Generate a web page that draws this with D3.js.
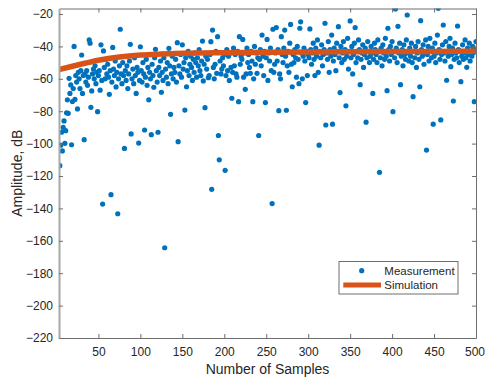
<!DOCTYPE html>
<html>
<head>
<meta charset="utf-8" />
<script src="https://d3js.org/d3.v7.min.js"></script>
<style>
  body { margin: 0; background: #fff; }
  svg { font-family: "Liberation Sans", Arial, sans-serif; }
</style>
</head>
<body>
<svg></svg>
<script>
// measured amplitude, one value per sample (sample index = position + 1)
var measured = [
  -96, -88, -93, -113.6, -101, -93, -104.5, -90, -86, -99.8, -92, -81, -73, -81.3, -59.7, -69, -63.8, -100.7, -74, -66,
  -40, -72.7, -58, -62, -78.6, -56, -60, -66, -55, -45.3, -69, -58, -97.6, -57, -62, -55, -64, -59, -36, -38,
  -77.6, -67.5, -57, -54, -60, -52, -63, -56, -80.3, -58, -55, -67, -39, -61, -137.3, -42.8, -53, -60, -48, -57,
  -51, -59, -69.6, -55, -131.5, -62, -40.6, -54, -58, -49, -65, -56, -143.3, -60, -52, -29.4, -57, -63, -50, -58,
  -103, -55, -61, -52, -66, -57, -49, -38.7, -94, -60, -54, -63, -47, -58, -69, -53, -56, -99.7, -61, -40.2,
  -55, -62, -50, -57, -91.6, -59, -48, -64, -53, -73, -56, -60, -94.5, -51, -58, -65.2, -47, -41.8, -55, -62,
  -93, -53, -58, -49, -68.3, -56, -61, -47, -164.3, -54, -59, -50, -63, -41.2, -52, -81.9, -57, -46, -60, -53,
  -56, -48, -62, -37.7, -98.8, -52, -57, -45, -59, -39, -54, -50, -79.3, -47, -64.9, -55, -43, -58, -51, -46,
  -53, -61, -48, -56, -44, -50, -59, -47, -52, -42, -55, -58, -49, -36.7, -61.3, -51, -77.8, -46, -54, -48,
  -59.3, -58, -45, -37.1, -128.2, -29.9, -53, -60, -51, -43, -56.6, -34, -95, -110, -49, -57, -54, -47, -52, -45,
  -116.5, -58, -42, -55, -46, -61, -44, -53, -72, -56, -41, -52, -45, -57, -59, -43, -74.1, -34, -51, -46,
  -48, -35.7, -59, -44, -66.5, -57, -41, -50, -45, -53, -56.6, -43, -49, -74.1, -60, -40, -51, -44, -56.6, -47,
  -95, -48, -42, -52, -33, -46, -58, -43, -74.7, -47, -35.7, -61, -44, -49, -41, -55, -137, -29.4, -56, -51,
  -44, -28.4, -49, -42, -79.7, -57, -60, -34, -45, -50, -41, -29.9, -46, -79.4, -52, -43, -56, -38, -26.4, -51,
  -64.9, -45, -50, -42, -47, -59, -40, -48, -63, -28.8, -24.8, -44, -60, -46, -41, -49, -74.7, -43, -58, -45,
  -47, -29.2, -42, -51, -44, -38, -48, -58, -41, -46, -36, -56, -101, -43, -47, -39, -52, -45, -42, -25.7,
  -88.5, -44, -48, -37, -56, -42, -46, -33, -88, -49, -41, -45, -55, -38, -43, -27.8, -47, -68.5, -40, -50,
  -44, -37, -48, -42, -76.7, -46, -35, -54, -43, -24.3, -47, -40, -57, -45, -38, -28.4, -50, -43, -47, -36,
  -42, -63.6, -48, -44, -39, -53, -45, -41, -86.8, -47, -37, -43, -50, -46, -40, -44, -69, -48, -38, -42,
  -45, -50, -36, -43, -117.7, -47, -41, -52, -39, -44, -48, -35, -46, -67.3, -28.8, -42, -49, -40, -45, -37,
  -80.3, -43, -47, -16.9, -41, -50, -27.6, -44, -38, -63.6, -46, -42, -52, -39, -45, -48, -36, -20.6, -44, -49,
  -41, -46, -38, -50, -71, -43, -47, -40, -53, -44, -37, -48, -64.9, -24.1, -42, -46, -39, -51, -44, -36,
  -104, -45, -40, -49, -35, -43, -47, -41, -88, -46, -38, -50, -44, -33, -16.5, -42, -48, -85.4, -45, -39,
  -26.8, -44, -49, -37, -60.9, -43, -46, -40, -35, -52.5, -45, -41, -73.7, -48, -38, -44, -47, -27.4, -42, -50,
  -43, -61.8, -46, -39, -48, -44, -36, -47, -52.9, -41, -45, -38, -49, -43, -46, -40, -44, -74.1, -42, -37
];

// simulated amplitude
var simSamples = [3, 25, 50, 75, 100, 125, 150, 200, 250, 300, 350, 400, 450, 500];
var simValues = [-54.3, -51.5, -48.5, -46.5, -45.3, -44.7, -44.3, -43.9, -43.6, -43.4, -43.3, -43.2, -43.1, -43.0];

var xTicks = [50, 100, 150, 200, 250, 300, 350, 400, 450, 500];
var yTicks = [-220, -200, -180, -160, -140, -120, -100, -80, -60, -40, -20];
var legendLabels = ['Measurement', 'Simulation'];

var width = 485, height = 379;
var margin = { left: 59, right: 9, top: 8.5, bottom: 41 };
var innerW = width - margin.left - margin.right;
var innerH = height - margin.top - margin.bottom;

var blue = '#0072BD', orange = '#D95319', axisColor = '#262626';

var svg = d3.select('svg').attr('width', width).attr('height', height);

var x = d3.scaleLinear().domain([3, 500]).range([0, innerW]);
var y = d3.scaleLinear().domain([-220, -16.6]).range([innerH, 0]);

var g = svg.append('g').attr('transform', 'translate(' + margin.left + ',' + margin.top + ')');

g.append('clipPath').attr('id', 'clip')
  .append('rect').attr('width', innerW).attr('height', innerH);

var points = measured.map(function (v, i) { return { s: i + 1, v: v }; })
  .filter(function (d) { return d.s >= 3; });

var plot = g.append('g').attr('clip-path', 'url(#clip)');

plot.selectAll('.dot')
  .data(points)
  .enter().append('circle')
  .attr('class', 'dot')
  .attr('cx', function (d) { return x(d.s); })
  .attr('cy', function (d) { return y(d.v); })
  .attr('r', 2.6)
  .attr('fill', blue);

var line = d3.line()
  .x(function (d) { return x(d[0]); })
  .y(function (d) { return y(d[1]); })
  .curve(d3.curveMonotoneX);

plot.append('path')
  .datum(simSamples.map(function (s, i) { return [s, simValues[i]]; }))
  .attr('d', line)
  .attr('fill', 'none')
  .attr('stroke', orange)
  .attr('stroke-width', 5.5);

// axes (MATLAB style: ticks inside, box on)
function styleAxis(sel) {
  sel.selectAll('path').attr('stroke', '#6e6e6e');
  sel.selectAll('line').attr('stroke', '#6e6e6e');
  sel.selectAll('text').attr('fill', axisColor).style('font-size', '12px')
    .style('font-family', '"Liberation Sans", Arial, sans-serif');
}

g.append('g')
  .attr('transform', 'translate(0,' + innerH + ')')
  .call(d3.axisBottom(x).tickValues(xTicks).tickSizeInner(-4).tickSizeOuter(0).tickPadding(9))
  .call(styleAxis)
  .call(function (s) {
    // keep the last label inside the window
    s.selectAll('.tick text').filter(function (d) { return d === 500; }).attr('dx', -1.5);
  });

g.append('g')
  .call(d3.axisTop(x).tickValues(xTicks).tickSizeInner(-4).tickSizeOuter(0).tickFormat(''))
  .call(styleAxis);

g.append('g')
  .call(d3.axisLeft(y).tickValues(yTicks).tickSizeInner(-4).tickSizeOuter(0).tickPadding(6))
  .call(styleAxis)
  .call(function (s) { s.select('.domain').attr('stroke', '#a8a8a8').attr('stroke-width', 2); });

g.append('g')
  .attr('transform', 'translate(' + innerW + ',0)')
  .call(d3.axisRight(y).tickValues(yTicks).tickSizeInner(-4).tickSizeOuter(0).tickFormat(''))
  .call(styleAxis);

// axis titles
svg.append('text')
  .attr('x', margin.left + innerW / 2)
  .attr('y', 374)
  .attr('text-anchor', 'middle')
  .attr('fill', axisColor)
  .style('font-size', '14px')
  .text('Number of Samples');

svg.append('text')
  .attr('transform', 'translate(22,' + (margin.top + innerH / 2) + ') rotate(-90)')
  .attr('text-anchor', 'middle')
  .attr('fill', axisColor)
  .style('font-size', '14px')
  .text('Amplitude, dB');

// legend
var lg = svg.append('g').attr('transform', 'translate(339,261.5)');
lg.append('rect')
  .attr('width', 119).attr('height', 32.5)
  .attr('fill', '#fff').attr('stroke', '#6e6e6e').attr('stroke-width', 1);
lg.append('circle').attr('cx', 22.7).attr('cy', 9.2).attr('r', 2.6).attr('fill', blue);
lg.append('line').attr('x1', 4.3).attr('x2', 42).attr('y1', 23.5).attr('y2', 23.5)
  .attr('stroke', orange).attr('stroke-width', 5);
lg.selectAll('.lt')
  .data(legendLabels)
  .enter().append('text')
  .attr('class', 'lt')
  .attr('x', 45.3)
  .attr('y', function (d, i) { return 13.5 + i * 14.3; })
  .attr('fill', axisColor)
  .style('font-size', '11.5px')
  .text(function (d) { return d; });
</script>
</body>
</html>
